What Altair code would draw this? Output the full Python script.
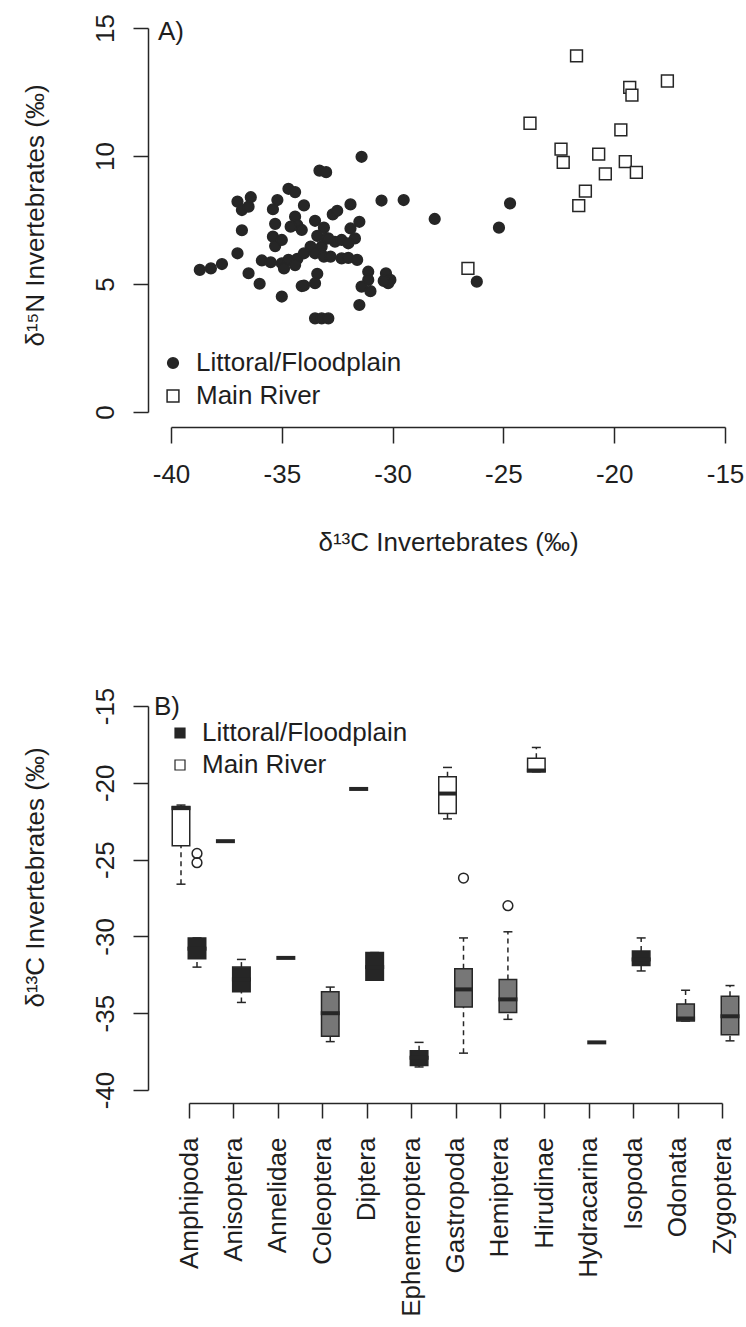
import altair as alt
import pandas as pd

HAB_L = "Littoral/Floodplain"
HAB_R = "Main River"

# ---------------- Panel A: d13C vs d15N of invertebrates ----------------
lit_d13c = [-38.7, -38.2, -37.7, -37.0, -36.5, -36.0, -35.0, -36.8, -37.0, -36.4,
            -36.8, -36.5, -35.4, -35.2, -35.3, -35.4, -35.3, -35.0, -34.7, -34.4,
            -35.9, -35.5, -35.0, -34.7, -34.3, -34.9, -34.4, -34.3, -34.1, -34.1,
            -31.4, -33.3, -33.0, -30.5, -29.5, -34.0, -31.9, -32.7, -32.5, -31.5,
            -31.9, -31.7, -34.6, -33.5, -33.1, -33.4, -33.0, -33.7, -33.2, -32.6,
            -32.3, -34.0, -34.4, -33.5, -33.1, -32.8, -32.3, -32.0, -31.6, -31.1,
            -31.1, -31.4, -31.0, -30.3, -30.1, -30.2, -30.4, -33.4, -33.5, -34.0,
            -31.5, -33.5, -33.2, -32.9, -28.1, -24.7, -25.2, -26.2, -32.0, -32.9]
lit_d15n = [5.55, 5.61, 5.78, 6.20, 5.42, 5.01, 4.51, 7.10, 8.22, 8.39,
            7.89, 8.02, 7.92, 8.28, 7.35, 6.85, 6.48, 6.72, 8.72, 8.59,
            5.92, 5.85, 5.81, 5.94, 5.98, 5.61, 7.63, 7.30, 7.11, 4.92,
            9.97, 9.43, 9.37, 8.26, 8.28, 8.07, 8.11, 7.72, 7.86, 7.43,
            7.17, 6.78, 7.24, 7.47, 7.20, 6.88, 6.78, 6.46, 6.46, 6.65,
            6.72, 6.20, 5.74, 6.20, 6.07, 6.07, 6.00, 6.02, 5.94, 5.48,
            5.16, 4.90, 4.72, 5.42, 5.16, 5.03, 5.12, 5.40, 5.03, 4.94,
            4.18, 3.66, 3.66, 3.66, 7.54, 8.15, 7.20, 5.09, 6.59, 6.78]
riv_d13c = [-26.6, -21.7, -17.6, -19.3, -19.2, -23.8, -19.7, -22.4, -22.3, -20.7,
            -19.5, -20.4, -19.0, -21.3, -21.6]
riv_d15n = [5.61, 13.91, 12.93, 12.68, 12.38, 11.28, 11.02, 10.27, 9.75, 10.07,
            9.78, 9.30, 9.36, 8.63, 8.06]

x_ticks_a = [-40, -35, -30, -25, -20, -15]
y_ticks_a = [0, 5, 10, 15]

# ---------------- Panel B: d13C by taxon (box summaries) ----------------
taxa = ["Amphipoda", "Anisoptera", "Annelidae", "Coleoptera", "Diptera",
        "Ephemeroptera", "Gastropoda", "Hemiptera", "Hirudinae", "Hydracarina",
        "Isopoda", "Odonata", "Zygoptera"]

box_taxon = ["Amphipoda", "Anisoptera", "Diptera", "Gastropoda", "Hirudinae",
             "Amphipoda", "Anisoptera", "Annelidae", "Coleoptera", "Diptera",
             "Ephemeroptera", "Gastropoda", "Hemiptera", "Hydracarina", "Isopoda",
             "Odonata", "Zygoptera"]
box_habitat = [HAB_R] * 5 + [HAB_L] * 12
box_min = [-26.6, -23.8, -20.4, -22.35, -19.28,
           -32.0, -34.3, -31.4, -36.85, -32.85, -38.5, -37.6, -35.4, -36.9, -32.25, -35.5, -36.8]
box_q1 = [-24.1, -23.8, -20.4, -22.0, -19.28,
          -31.45, -33.6, -31.4, -36.5, -32.85, -38.4, -34.6, -34.95, -36.9, -31.9, -35.5, -36.4]
box_median = [-21.65, -23.8, -20.4, -20.7, -19.2,
              -30.8, -32.8, -31.4, -35.0, -32.0, -37.9, -33.45, -34.1, -36.9, -31.5, -35.35, -35.2]
box_q3 = [-21.55, -23.8, -20.4, -19.6, -18.4,
          -30.1, -32.0, -31.4, -33.6, -31.05, -37.45, -32.1, -32.8, -36.9, -30.95, -34.4, -33.9]
box_max = [-21.45, -23.8, -20.4, -19.0, -17.7,
           -30.1, -31.5, -31.4, -33.3, -31.05, -36.9, -30.1, -29.7, -36.9, -30.1, -33.5, -33.2]

out_taxon = ["Amphipoda", "Amphipoda", "Gastropoda", "Hemiptera"]
out_habitat = [HAB_L, HAB_L, HAB_L, HAB_L]
out_value = [-24.6, -25.2, -26.2, -28.0]

y_ticks_b = [-40, -35, -30, -25, -20, -15]

# ---------------- styling ----------------
FONT = "Liberation Sans"
INK = "#262626"
TEXT = "#1e1e1e"
GREY = "#777777"
GREY_BOX_TAXA = ["Coleoptera", "Gastropoda", "Hemiptera", "Odonata", "Zygoptera"]

scatter_df = pd.DataFrame({
    "d13c": lit_d13c + riv_d13c,
    "d15n": lit_d15n + riv_d15n,
    "habitat": [HAB_L] * len(lit_d13c) + [HAB_R] * len(riv_d13c),
})

box_df = pd.DataFrame({
    "taxon": box_taxon, "habitat": box_habitat, "min": box_min, "q1": box_q1,
    "median": box_median, "q3": box_q3, "max": box_max,
})
out_df = pd.DataFrame({"taxon": out_taxon, "habitat": out_habitat, "value": out_value})

# ---- panel A ----
legend_a = alt.Legend(title=None, orient="none", legendX=-11, legendY=322, padding=0,
                      labelOffset=10, rowPadding=7, labelLimit=0,
                      symbolStrokeColor=INK, symbolStrokeWidth=1.5)
hab_domain = [HAB_L, HAB_R]

x_a = alt.X("d13c:Q",
            scale=alt.Scale(domain=[-40, -15], nice=False, zero=False),
            axis=alt.Axis(values=x_ticks_a, offset=15, tickSize=16, labelPadding=18,
                          labelExpr="toString(datum.value)",
                          title="δ¹³C Invertebrates (‰)", titleX=277, titleY=123,
                          titleAngle=0, titleAlign="center", titleBaseline="alphabetic"))
y_a = alt.Y("d15n:Q",
            scale=alt.Scale(domain=[0, 15], nice=False, zero=False),
            axis=alt.Axis(values=y_ticks_a, offset=23, tickSize=15, labelPadding=20,
                          labelAngle=270, labelAlign="center", labelBaseline="alphabetic",
                          labelExpr="toString(datum.value)",
                          title="δ¹⁵N Invertebrates (‰)", titleX=-105, titleY=187,
                          titleAngle=270, titleAlign="center", titleBaseline="alphabetic"))

panel_a = alt.Chart(scatter_df).mark_point(filled=True, strokeWidth=1.5, opacity=1).encode(
    x=x_a,
    y=y_a,
    shape=alt.Shape("habitat:N", scale=alt.Scale(domain=hab_domain, range=["circle", "square"]),
                    legend=legend_a),
    fill=alt.Fill("habitat:N", scale=alt.Scale(domain=hab_domain, range=[INK, "white"]),
                  legend=legend_a),
    stroke=alt.Stroke("habitat:N", scale=alt.Scale(domain=hab_domain, range=[INK, INK]),
                      legend=legend_a),
    size=alt.Size("habitat:N", scale=alt.Scale(domain=hab_domain, range=[115, 140]),
                  legend=legend_a),
).properties(
    width=554, height=384,
    title=alt.TitleParams("A)", anchor="start", frame="group", orient="top", offset=0,
                          dx=-13, dy=52, baseline="alphabetic", fontSize=26, font=FONT,
                          fontWeight="normal", color=TEXT),
)

# ---- panel B ----
x_b = alt.X("taxon:N", sort=taxa,
            scale=alt.Scale(type="point", domain=taxa, range=[18, 551], padding=0),
            axis=alt.Axis(title=None, offset=13, tickSize=15, labelPadding=19, labelLimit=0,
                          labelAngle=270, labelAlign="right", labelBaseline="middle"))
xo_b = alt.XOffset("habitat:N",
                   scale=alt.Scale(type="point", domain=[HAB_R, HAB_L], range=[-8, 8], padding=0))
axis_b = alt.Axis(values=y_ticks_b, offset=23, tickSize=15, labelPadding=20,
                  labelAngle=270, labelAlign="center", labelBaseline="alphabetic",
                  labelExpr="toString(datum.value)",
                  title="δ¹³C Invertebrates (‰)", titleX=-105, titleY=171,
                  titleAngle=270, titleAlign="center", titleBaseline="alphabetic")
scale_b = alt.Scale(domain=[-40, -15], nice=False, zero=False)


def yb(field):
    return alt.Y(f"{field}:Q", scale=scale_b, axis=axis_b)


base_b = alt.Chart(box_df).encode(x=x_b, xOffset=xo_b)

whisk_hi = base_b.mark_rule(strokeDash=[5, 4], strokeWidth=1.5, color=INK).encode(
    y=yb("q3"), y2="max:Q")
whisk_lo = base_b.mark_rule(strokeDash=[5, 4], strokeWidth=1.5, color=INK).encode(
    y=yb("min"), y2="q1:Q")
cap_hi = base_b.mark_tick(size=9, thickness=1.5, color=INK, opacity=1).encode(y=yb("max"))
cap_lo = base_b.mark_tick(size=9, thickness=1.5, color=INK, opacity=1).encode(y=yb("min"))

grey_test = (f"indexof({GREY_BOX_TAXA}, datum.taxon) >= 0 && datum.habitat === '{HAB_L}'")
legend_b = alt.Legend(title=None, orient="none", legendX=-4, legendY=14, padding=0,
                      labelOffset=9, rowPadding=6, labelLimit=0, symbolType="square",
                      symbolSize=100, symbolStrokeColor=INK, symbolStrokeWidth=1.2)
boxes = base_b.mark_bar(size=17.5, stroke=INK, strokeWidth=1.5, opacity=1).encode(
    y=yb("q1"), y2="q3:Q",
    fill=alt.condition(grey_test, alt.value(GREY),
                       alt.Fill("habitat:N", scale=alt.Scale(domain=hab_domain, range=[INK, "white"]),
                                legend=legend_b)),
)
medians = base_b.mark_tick(size=19, thickness=4, color=INK, opacity=1).encode(y=yb("median"))

outliers = alt.Chart(out_df).mark_point(shape="circle", size=95, strokeWidth=1.5,
                                        filled=False, color=INK, opacity=1).encode(
    x=x_b, xOffset=xo_b, y=yb("value"))

panel_b = alt.layer(whisk_hi, whisk_lo, cap_hi, cap_lo, boxes, medians, outliers).properties(
    width=573, height=384,
    title=alt.TitleParams("B)", anchor="start", frame="group", orient="top", offset=0,
                          dx=-17, dy=54, baseline="alphabetic", fontSize=26, font=FONT,
                          fontWeight="normal", color=TEXT),
)

chart = alt.vconcat(panel_a, panel_b, spacing=294, bounds="flush").resolve_scale(
    x="independent", y="independent", fill="independent", shape="independent",
    size="independent", stroke="independent",
).resolve_legend(
    fill="independent", shape="independent", size="independent", stroke="independent",
).properties(
    padding={"left": 21, "top": 13, "right": 0, "bottom": 0},
    background="white",
).configure_axis(
    labelFont=FONT, titleFont=FONT, labelFontSize=26, titleFontSize=26,
    titleFontWeight="normal", labelColor=TEXT, titleColor=TEXT,
    domainColor=INK, tickColor=INK, domainWidth=1.5, tickWidth=1.5,
    grid=False, labelFlush=False, labelOverlap=False, labelBound=False,
).configure_legend(
    labelFont=FONT, labelFontSize=26, labelColor=TEXT,
).configure_view(stroke="transparent")

chart.save("out.html", embed_options={"renderer": "svg", "actions": False})
